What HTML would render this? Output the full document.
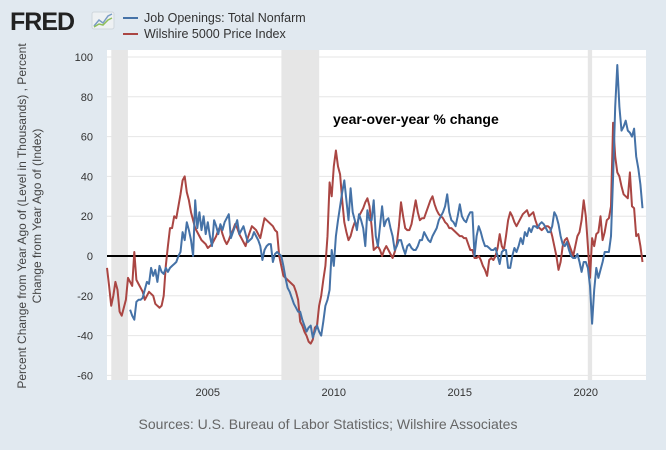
<!DOCTYPE html>
<html><head><meta charset="utf-8">
<style>
html,body{margin:0;padding:0;background:#e1e9f0;width:666px;height:450px;overflow:hidden;font-family:"Liberation Sans",sans-serif}
</style></head>
<body>
<svg id="chart" width="666" height="450" xmlns="http://www.w3.org/2000/svg" style="display:block">
<rect x="0" y="0" width="666" height="450" fill="#e1e9f0"/>
<g>
<text x="10" y="30" font-size="25" font-weight="bold" fill="#222" font-family="Liberation Sans, sans-serif" letter-spacing="-1">FRED</text>
<rect x="92" y="12" width="22" height="17" rx="2" fill="#eef1f3" stroke="#cfd6dc"/>
<polyline points="94,26 99,20 103,23 108,16 112,14" fill="none" stroke="#7a9cc4" stroke-width="1.5"/>
<polyline points="94,27 99,24 103,25 108,20 112,18" fill="none" stroke="#8fbf5a" stroke-width="1.5"/>
</g>
<g>
<line x1="123" y1="18" x2="138" y2="18" stroke="#4572a7" stroke-width="2"/>
<text x="144" y="22" font-size="12.5" fill="#333">Job Openings: Total Nonfarm</text>
<line x1="123" y1="34" x2="138" y2="34" stroke="#aa4643" stroke-width="2"/>
<text x="144" y="38" font-size="12.5" fill="#333">Wilshire 5000 Price Index</text>
</g>
<rect x="107" y="50" width="539" height="330" fill="#ffffff"/>
<g id="rec"></g>
<g id="grid"></g>
<g id="yticks"></g>
<g id="xticks"></g>
<line id="zero" stroke="#000" stroke-width="2"/>
<g id="series"></g>
<text x="333" y="124" font-size="14" font-weight="bold" fill="#000">year-over-year % change</text>
<g font-size="12" fill="#444">
<text transform="translate(26,216) rotate(-90)" text-anchor="middle">Percent Change from Year Ago of (Level in Thousands) , Percent</text>
<text transform="translate(41,216) rotate(-90)" text-anchor="middle">Change from Year Ago of (Index)</text>
</g>
<text x="328" y="429" font-size="14" fill="#666" text-anchor="middle">Sources: U.S. Bureau of Labor Statistics; Wilshire Associates</text>
</svg>
<script>
const yTicks=[100,80,60,40,20,0,-20,-40,-60];
const xTickYears=[2005,2010,2015,2020];
const recessions=[[2001.17,2001.83],[2007.92,2009.42],[2020.08,2020.25]];
// monthly values starting Jan 2001
const wilshire=[
-6,-15,-25,-20,-13,-17,-28,-30,-26,-22,-11,-13,
-15,2,-12,-14,-16,-18,-22,-20,-18,-19,-20,-24,
-25,-26,-25,-20,-5,5,14,14,20,19,25,31,
38,40,32,28,22,18,14,12,10,8,7,6,
4,5,6,8,10,13,15,11,8,6,8,11,
13,16,14,11,9,7,5,9,12,15,14,13,
11,9,14,19,18,17,16,15,13,12,0,-5,
-10,-11,-12,-13,-14,-15,-18,-22,-33,-35,-38,-40,
-43,-44,-42,-36,-35,-25,-20,-12,-5,10,37,30,
45,53,45,41,28,17,12,8,10,14,17,15,
20,22,24,27,29,25,15,3,4,5,3,0,
3,5,3,1,-1,2,6,15,27,20,14,13,
13,16,22,28,22,18,19,19,22,25,28,30,
26,23,21,20,19,17,16,14,14,13,12,11,
10,10,9,9,6,3,3,-1,-1,0,-2,-5,
-7,-10,-2,-1,-2,0,4,11,5,3,10,18,
22,20,17,15,17,19,21,22,23,20,21,22,
18,15,14,13,14,15,15,14,10,5,0,-7,
-3,5,8,9,6,3,0,5,10,12,18,28,
20,5,-11,9,5,11,12,20,8,12,18,19,
25,67,50,42,40,35,31,30,29,42,25,24,
10,11,5,-3];
// monthly values starting Dec 2001
const jobOpenings=[
-27,
-30,-32,-23,-22,-22,-21,-17,-13,-14,-6,-10,-7,
-13,-5,-8,-9,-6,-8,-6,-5,-4,-3,0,2,
12,8,17,13,8,0,28,14,22,13,20,11,
17,10,5,18,15,11,16,13,17,19,21,9,
12,15,18,11,13,15,11,7,8,9,12,10,
8,5,-2,3,5,6,6,-3,1,2,1,0,
-5,-11,-16,-18,-21,-24,-26,-28,-28,-32,-35,-38,
-36,-35,-41,-38,-35,-38,-40,-33,-25,-22,-17,3,
-5,10,18,25,32,38,28,18,34,22,18,13,
21,18,14,5,23,18,18,28,10,5,15,25,
15,18,19,14,10,3,5,8,8,4,1,5,
6,4,3,3,5,8,8,12,10,8,7,10,
12,14,18,20,22,25,31,22,18,17,15,20,
26,20,18,17,20,22,22,0,10,15,12,8,
5,5,4,3,3,4,0,-4,2,3,3,-6,
-6,0,4,2,5,9,6,12,10,14,12,15,
15,14,16,17,16,14,12,12,15,22,20,16,
10,6,5,7,3,0,-1,-1,1,-3,-8,-3,
-3,-6,-15,-34,-17,-6,-11,-7,-3,2,2,2,
10,40,75,96,75,63,65,68,63,62,60,64,
50,44,36,24];
const NS='http://www.w3.org/2000/svg';
const X0=107, PX_PER_YEAR=25.2;
function xs(t){return X0+(t-2001)*PX_PER_YEAR;}
function ys(v){return 256-v*1.99;}
function mk(tag,attrs,parent){const e=document.createElementNS(NS,tag);for(const k in attrs)e.setAttribute(k,attrs[k]);parent.appendChild(e);return e;}
const rec=document.getElementById('rec');
recessions.forEach(r=>{
 const e=mk('rect',{x:xs(r[0]),y:50,width:xs(r[1])-xs(r[0]),height:330,fill:'#e6e6e6'},rec);
 
 
});
const grid=document.getElementById('grid'),yt=document.getElementById('yticks');
yTicks.forEach(v=>{
 const g=mk('line',{x1:107,x2:646,y1:ys(v),y2:ys(v),stroke:'#e6e6e6','stroke-width':1},grid);
 
 
 const t=mk('text',{x:93,y:ys(v)+4,'font-size':11,fill:'#333','text-anchor':'end'},yt);
 t.textContent=v;
 
 
});
const xt=document.getElementById('xticks');
xTickYears.forEach(y=>{
 const t=mk('text',{x:xs(y),y:396,'font-size':11,fill:'#333','text-anchor':'middle'},xt);
 t.textContent=y;
 
 
});
const z=document.getElementById('zero');
z.setAttribute('x1',107);z.setAttribute('x2',646);z.setAttribute('y1',ys(0));z.setAttribute('y2',ys(0));
const ser=document.getElementById('series');
function line(vals,startMonth,color,name){
 const pts=vals.map((v,i)=>xs(2001+(startMonth+i)/12).toFixed(1)+','+ys(v).toFixed(1)).join(' ');
 const p=mk('polyline',{points:pts,fill:'none',stroke:color,'stroke-width':2,'stroke-linejoin':'round'},ser);
 
 
}
line(wilshire,0,'#aa4643','wilshire-line');
line(jobOpenings,11,'#4572a7','job-openings-line');
</script>
</body></html>
